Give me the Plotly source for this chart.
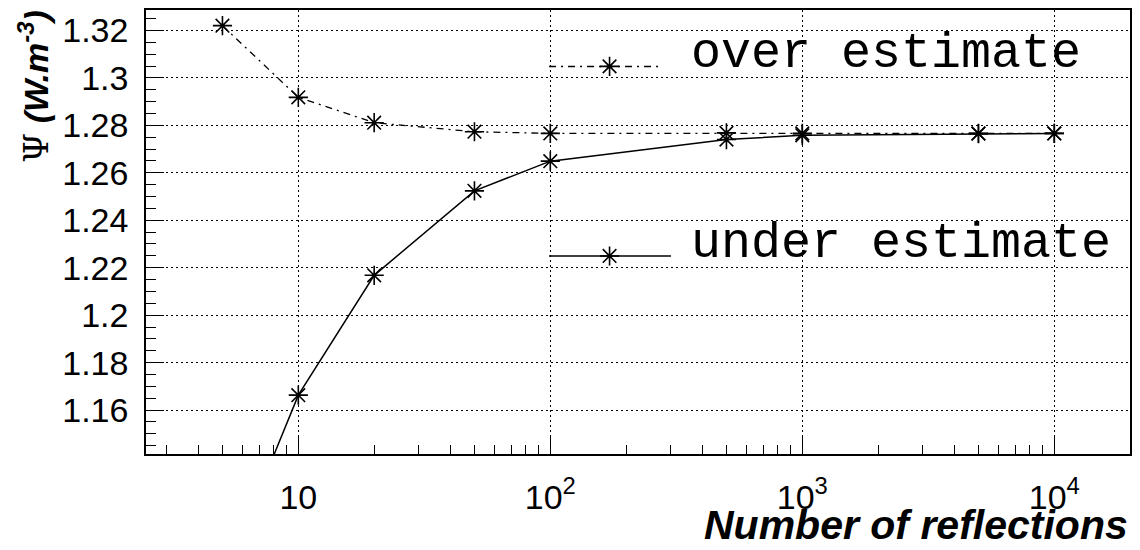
import plotly.graph_objects as go

# ---------------- data ----------------
n_reflections_over = [5, 10, 20, 50, 100, 500, 1000, 5000, 10000]
psi_over = [1.3220, 1.2918, 1.2811, 1.2773, 1.2766, 1.2768, 1.2766, 1.2766, 1.2766]

n_reflections_under = [5, 10, 20, 50, 100, 500, 1000, 5000, 10000]
psi_under = [1.0880, 1.1663, 1.2168, 1.2524, 1.2649, 1.2740, 1.2758, 1.2765, 1.2766]

y_tick_vals = [1.16, 1.18, 1.20, 1.22, 1.24, 1.26, 1.28, 1.30, 1.32]
y_tick_text = ["1.16", "1.18", "1.2", "1.22", "1.24", "1.26", "1.28", "1.3", "1.32"]
x_tick_vals = [10, 100, 1000, 10000]
x_tick_text = ["10", "10<sup>2</sup>", "10<sup>3</sup>", "10<sup>4</sup>"]

legend_labels = ["over estimate", "under estimate"]

# ---------------- layout constants ----------------
W, H = 1140, 550
L, R, T, B = 146, 10, 9.5, 96
X_RANGE = [0.3956, 4.3004]
Y_RANGE = [1.1415, 1.3286]

STAR = dict(symbol="asterisk-open", size=16, color="black", line=dict(color="black", width=1.6))
DASHDOT = "7px,5px,2px,5px"

fig = go.Figure()

fig.add_trace(go.Scatter(
    x=n_reflections_over, y=psi_over, mode="lines+markers",
    line=dict(color="black", width=1.3, dash=DASHDOT),
    marker=STAR, showlegend=False, name=legend_labels[0]))
fig.add_trace(go.Scatter(
    x=n_reflections_under, y=psi_under, mode="lines+markers",
    line=dict(color="black", width=1.5),
    marker=STAR, showlegend=False, name=legend_labels[1]))

# ---- legend drawn in a hidden overlay axis (fractions of the plot area) ----
leg_line_x0 = 0.4096
leg_line_x1 = [0.5244, 0.5335]
leg_star_x = 0.4711
leg_y = [0.873, 0.446]
leg_dash = [DASHDOT, "solid"]
for i in range(2):
    fig.add_trace(go.Scatter(
        x=[leg_line_x0, leg_line_x1[i]], y=[leg_y[i], leg_y[i]], mode="lines",
        line=dict(color="black", width=1.5, dash=leg_dash[i]),
        xaxis="x2", yaxis="y2", showlegend=False, hoverinfo="skip"))
    fig.add_trace(go.Scatter(
        x=[leg_star_x], y=[leg_y[i]], mode="markers", marker=STAR,
        xaxis="x2", yaxis="y2", showlegend=False, hoverinfo="skip"))
    fig.add_annotation(
        x=0.5516, y=leg_y[i] + 0.028, xref="x2", yref="y2",
        text=legend_labels[i], showarrow=False, xanchor="left", yanchor="middle",
        font=dict(family="Liberation Mono, Courier New, monospace", size=50, color="black"))

axis_font = dict(family="Liberation Sans, Arial, Helvetica, sans-serif", size=34, color="black")

fig.update_layout(
    width=W, height=H,
    margin=dict(l=L, r=R, t=T, b=B),
    paper_bgcolor="white", plot_bgcolor="white",
    showlegend=False,
    xaxis=dict(
        type="log", range=X_RANGE,
        tickmode="array", tickvals=x_tick_vals, ticktext=x_tick_text,
        ticks="inside", ticklen=19, tickwidth=1, tickcolor="black",
        minor=dict(ticks="inside", ticklen=9, tickwidth=1, tickcolor="black", dtick="D1", showgrid=False),
        showgrid=True, gridcolor="black", gridwidth=1, griddash="2px,3px",
        showline=True, linecolor="black", linewidth=1.5, mirror=True,
        zeroline=False, tickfont=axis_font, ticklabelstandoff=12,
    ),
    yaxis=dict(
        range=Y_RANGE,
        tickmode="array", tickvals=y_tick_vals, ticktext=y_tick_text,
        ticks="inside", ticklen=18, tickwidth=1, tickcolor="black",
        minor=dict(ticks="inside", ticklen=10, tickwidth=1, tickcolor="black", dtick=0.005, showgrid=False),
        showgrid=True, gridcolor="black", gridwidth=1, griddash="2px,3px",
        showline=True, linecolor="black", linewidth=1.5, mirror=True,
        zeroline=False, tickfont=axis_font, ticklabelstandoff=9,
    ),
    xaxis2=dict(range=[0, 1], overlaying="x", visible=False, fixedrange=True),
    yaxis2=dict(range=[0, 1], overlaying="y", visible=False, fixedrange=True),
)

# axis titles
fig.add_annotation(
    x=1.0, y=-0.2165, xref="paper", yref="paper", xanchor="right", yanchor="bottom",
    text="<b><i>Number of reflections</i></b>", showarrow=False,
    font=dict(family="Liberation Sans, Arial, sans-serif", size=41, color="black"))
fig.add_annotation(
    x=-0.089, y=1.004, xref="paper", yref="paper", xanchor="right", yanchor="top",
    textangle=-90,
    text="<span style='font-family:DejaVu Serif'>Ψ</span> <b><i>(W.m<sup>-3</sup>)</i></b>",
    showarrow=False,
    font=dict(family="Liberation Sans, Arial, sans-serif", size=34, color="black"))

fig.write_html(
    "out.html",
    config={"displayModeBar": False},
    post_script="document.body.style.margin='0';document.body.style.overflow='hidden';",
)
